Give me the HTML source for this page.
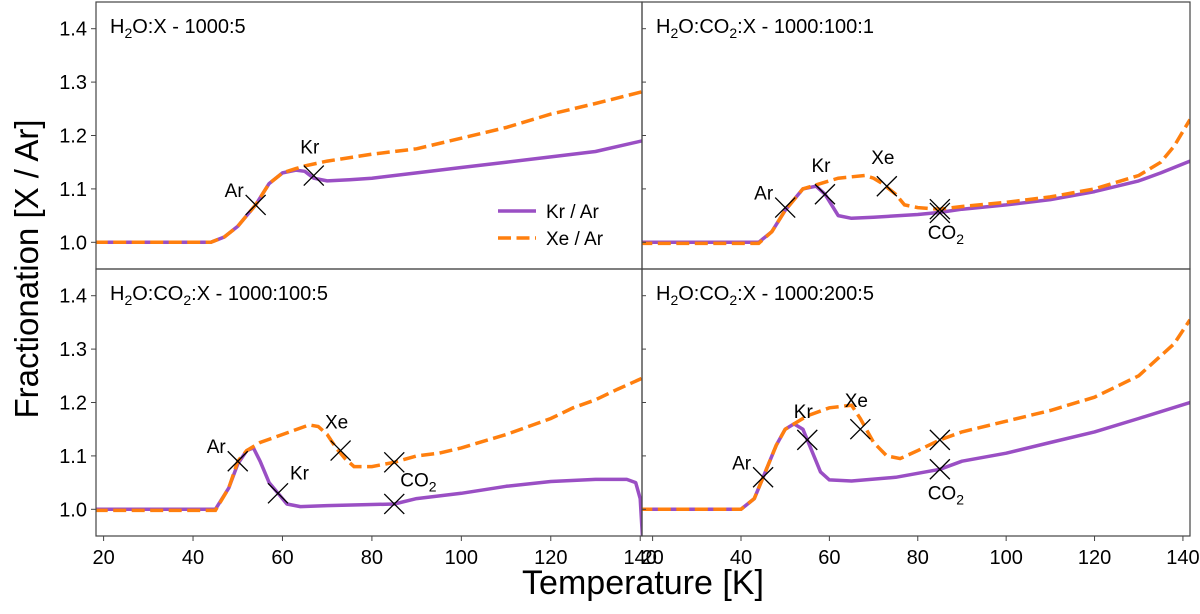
<!DOCTYPE html>
<html><head><meta charset="utf-8"><style>
body{margin:0;background:#fff}
svg{display:block;font-family:"Liberation Sans","DejaVu Sans",sans-serif}
</style></head><body>
<svg id="chart" width="1200" height="614" viewBox="0 0 1200 614">
<g id="g"></g>
</svg>
<script>
// ---- data ----
const panelTitles = ["H\u2082O:X - 1000:5","H\u2082O:CO\u2082:X - 1000:100:1","H\u2082O:CO\u2082:X - 1000:100:5","H\u2082O:CO\u2082:X - 1000:200:5"];
const xTicks = [20,40,60,80,100,120,140];
const yTicks = [1.0,1.1,1.2,1.3,1.4];
const krT0 = [18,44,47,50,54,57,60,63,65,67,70,75,80,90,100,110,120,130,140.5];
const krV0 = [1.0,1.0,1.01,1.03,1.07,1.11,1.13,1.135,1.133,1.12,1.115,1.117,1.12,1.13,1.14,1.15,1.16,1.17,1.19];
const xeT0 = [18,44,47,50,54,57,60,63,65,70,80,90,100,110,120,130,140.5];
const xeV0 = [1.0,1.0,1.01,1.03,1.07,1.11,1.13,1.138,1.143,1.152,1.165,1.175,1.195,1.215,1.24,1.26,1.282];
const krT1 = [17,44,47,50,54,57,59,62,65,70,80,85,90,100,110,120,130,135,141.6];
const krV1 = [1.0,1.0,1.02,1.06,1.1,1.105,1.09,1.05,1.045,1.047,1.052,1.056,1.062,1.07,1.08,1.095,1.115,1.13,1.152];
const xeT1 = [17,44,47,50,54,56,58,62,68,70,72,75,77,80,85,90,100,110,120,130,135,138,141.6];
const xeV1 = [0.998,0.998,1.02,1.06,1.1,1.105,1.11,1.12,1.125,1.12,1.11,1.09,1.07,1.065,1.062,1.067,1.075,1.085,1.1,1.125,1.15,1.18,1.23];
const krT2 = [18,45,48,50,52,53.5,55,57,59,61,64,70,85,90,100,110,120,130,137,139,140,140.5];
const krV2 = [1.0,1.0,1.04,1.085,1.11,1.115,1.09,1.05,1.03,1.01,1.005,1.007,1.01,1.02,1.03,1.043,1.052,1.056,1.056,1.05,1.02,0.95];
const xeT2 = [18,45,48,50,52,55,60,66,68,70,72,74,76,80,85,90,95,100,110,120,125,130,135,140.3];
const xeV2 = [0.998,0.998,1.04,1.09,1.11,1.125,1.14,1.158,1.155,1.14,1.115,1.095,1.08,1.08,1.088,1.1,1.105,1.115,1.14,1.17,1.19,1.205,1.225,1.245];
const krT3 = [17,40,43,45,48,50,52,54,56,58,60,65,75,85,90,100,110,120,130,141.6];
const krV3 = [1.0,1.0,1.02,1.06,1.12,1.15,1.16,1.15,1.11,1.07,1.055,1.053,1.06,1.075,1.09,1.105,1.125,1.145,1.17,1.2];
const xeT3 = [17,40,43,45,48,50,52,55,60,65,67,70,73,76,80,85,90,100,110,120,130,138,141.6];
const xeV3 = [1.0,1.0,1.02,1.06,1.12,1.15,1.16,1.175,1.19,1.195,1.17,1.125,1.1,1.095,1.11,1.13,1.145,1.165,1.185,1.21,1.25,1.31,1.355];
const markerT = [[54,67],[50,59,73,85,85],[50,59,73,85,85],[45,55,67,85,85]];
const markerV = [[1.07,1.125],[1.065,1.09,1.105,1.062,1.055],[1.09,1.03,1.11,1.088,1.01],[1.06,1.13,1.15,1.13,1.075]];
const markerLbl = [["Ar","Kr"],["Ar","Kr","Xe","CO2",""],["Ar","Kr","Xe","CO2",""],["Ar","Kr","Xe","","CO2"]];
const lblPos = [["l","a"],["l","a","a","b",""],["l","ar","a","br",""],["l","a","a","","b"]];
// ---- layout ----
const NS="http://www.w3.org/2000/svg";
const g=document.getElementById('g');
const panels=[{x0:96,x1:642,y0:2,y1:269,d0:18.3,d1:140.4},{x0:642,x1:1190,y0:2,y1:269,d0:17.6,d1:141.6},
{x0:96,x1:642,y0:269,y1:536,d0:18.3,d1:140.4},{x0:642,x1:1190,y0:269,y1:536,d0:17.6,d1:141.6}];
const Y0=0.95,Y1=1.45;
function el(tag,attrs,parent){const e=document.createElementNS(NS,tag);for(const k in attrs)e.setAttribute(k,attrs[k]);(parent||g).appendChild(e);return e;}
const series=[[krT0,krV0,xeT0,xeV0],[krT1,krV1,xeT1,xeV1],[krT2,krV2,xeT2,xeV2],[krT3,krV3,xeT3,xeV3]];
panels.forEach((p,i)=>{
  const sx=t=>p.x0+(t-p.d0)/(p.d1-p.d0)*(p.x1-p.x0);
  const sy=v=>p.y1-(v-Y0)/(Y1-Y0)*(p.y1-p.y0);
  const pg=el('g',{});
  
  
  const cid='clip'+i;
  const cp=el('clipPath',{id:cid},pg);el('rect',{x:p.x0,y:p.y0,width:p.x1-p.x0,height:p.y1-p.y0},cp);
  const s=series[i];
  const path=(T,V)=>T.map((t,k)=>(k?'L':'M')+sx(t).toFixed(1)+','+sy(V[k]).toFixed(1)).join('');
  const kr=el('path',{d:path(s[0],s[1]),fill:'none',stroke:'#9a4fc4','stroke-width':3.5,'stroke-linejoin':'round','clip-path':`url(#${cid})`},pg);
  
  
  const xe=el('path',{d:path(s[2],s[3]),fill:'none',stroke:'#ff7f0e','stroke-width':3.5,'stroke-dasharray':'13 5.5','clip-path':`url(#${cid})`},pg);
  
  
  markerT[i].forEach((t,k)=>{
    const cx=sx(t),cy=sy(markerV[i][k]);
    const m=el('path',{d:`M${cx-10},${cy-10}L${cx+10},${cy+10}M${cx-10},${cy+10}L${cx+10},${cy-10}`,stroke:'#000','stroke-width':1.3},pg);
    
    
    const L=markerLbl[i][k]; if(!L)return;
    const pos=lblPos[i][k];let tx=cx,ty=cy,anchor='middle';
    if(pos==='l'){tx=cx-12;ty=cy-8;anchor='end';}
    else if(pos==='a'){tx=cx-4;ty=cy-22;}
    else if(pos==='ar'){tx=cx+12;ty=cy-14;anchor='start';}
    else if(pos==='b'){tx=cx+6;ty=cy+30;}
    else if(pos==='br'){tx=cx+6;ty=cy+24;anchor='start';}
    const te=el('text',{x:tx,y:ty,'font-size':19,'text-anchor':anchor,fill:'#000'},pg);
    
    
    if(L==='CO2'){te.textContent='CO';const sub=el('tspan',{'font-size':14,dy:5},te);sub.textContent='2';}
    else te.textContent=L;
  });
  const fr=el('rect',{x:p.x0,y:p.y0,width:p.x1-p.x0,height:p.y1-p.y0,fill:'none',stroke:'#444','stroke-width':1.2},pg);
  
  
  const tt=el('text',{x:p.x0+14,y:p.y0+31,'font-size':20,fill:'#000'},pg);
  
  
  panelTitles[i].split(/(\u2082)/).forEach(part=>{
    if(part==='\u2082'){const sp=el('tspan',{'font-size':14,dy:5},tt);sp.textContent='2';}
    else if(part){const sp=el('tspan',{dy:tt.childNodes.length?-5:0},tt);sp.textContent=part;}
  });
  if(i%2===0){
    yTicks.forEach(v=>{
      el('line',{x1:p.x0-5,x2:p.x0,y1:sy(v),y2:sy(v),stroke:'#444'},pg);
      const l=el('text',{x:p.x0-9,y:sy(v)+7,'font-size':20,'text-anchor':'end'},pg);
      
      
      l.textContent=v.toFixed(1);
    });
  } else {
    yTicks.forEach(v=>el('line',{x1:p.x0,x2:p.x0+4,y1:sy(v),y2:sy(v),stroke:'#444'},pg));
  }
  if(i>=2){
    xTicks.forEach(t=>{
      el('line',{x1:sx(t),x2:sx(t),y1:p.y1,y2:p.y1+5,stroke:'#444'},pg);
      const l=el('text',{x:sx(t),y:p.y1+28,'font-size':20,'text-anchor':'middle'},pg);
      
      
      l.textContent=t;
    });
  }
});
// legend
const lg=el('g',{});


el('line',{x1:498,x2:536,y1:211,y2:211,stroke:'#9a4fc4','stroke-width':3.5},lg);
el('line',{x1:498,x2:536,y1:238,y2:238,stroke:'#ff7f0e','stroke-width':3.5,'stroke-dasharray':'13 5.5'},lg);
const l1=el('text',{x:546,y:218,'font-size':19},lg);l1.textContent='Kr / Ar';


const l2=el('text',{x:546,y:245,'font-size':19},lg);l2.textContent='Xe / Ar';


const xt=el('text',{x:643,y:594,'font-size':34,'text-anchor':'middle'});


xt.textContent='Temperature [K]';
const yt=el('text',{x:0,y:0,'font-size':33,'text-anchor':'middle',transform:'translate(38,269) rotate(-90)'});


yt.textContent='Fractionation [X / Ar]';
</script>
</body></html>
